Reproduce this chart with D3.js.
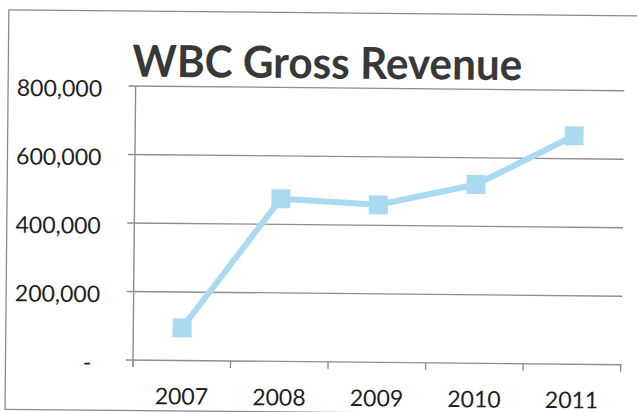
<!DOCTYPE html>
<html>
<head>
<meta charset="utf-8">
<script src="https://cdn.jsdelivr.net/npm/d3@7"></script>
<style>
  html, body { margin: 0; padding: 0; background: #ffffff; }
  svg { display: block; }
  text { font-family: Lato, "Open Sans", sans-serif; }
</style>
</head>
<body>
<svg id="chart" width="637" height="412"></svg>
<script>
// Yearly gross revenue
const categories = ["2007", "2008", "2009", "2010", "2011"];
const revenue = [95000, 475000, 460000, 522000, 667000];

// Value axis ticks and their printed labels (accounting style: zero shown as "-")
const yTickValues = [0, 200000, 400000, 600000, 800000];
const yTickLabels = ["-", "200,000", "400,000", "600,000", "800,000"];

const chartTitle = "WBC Gross Revenue";

const W = 637, H = 412;
const plot = { left: 133, right: 620.7, top: 86, bottom: 360 };
const gridColor = "#8e8e8e";
const seriesColor = "#a9daf1";

const svg = d3.select("#chart");
svg.append("rect").attr("width", W).attr("height", H).attr("fill", "#ffffff");

// whole chart sits slightly tilted on the page
const g = svg.append("g").attr("transform", "rotate(0.55,133,360)");

// chart frame
g.append("rect")
  .attr("x", 5.5).attr("y", 11)
  .attr("width", 700).attr("height", 399.5)
  .attr("fill", "none")
  .attr("stroke", "#8a8a8a")
  .attr("stroke-width", 1.3);

const x = d3.scaleBand().domain(categories).range([plot.left, plot.right]).padding(0);
const y = d3.scaleLinear().domain([0, 800000]).range([plot.bottom, plot.top]);
const bw = x.bandwidth();

// horizontal gridlines (with short tick stubs left of the axis)
g.append("g").selectAll("line")
  .data(yTickValues)
  .join("line")
  .attr("x1", plot.left - 7).attr("x2", plot.right + 1)
  .attr("y1", d => y(d)).attr("y2", d => y(d))
  .attr("stroke", gridColor)
  .attr("stroke-width", 1.4);

// vertical value axis
g.append("line")
  .attr("x1", plot.left).attr("x2", plot.left)
  .attr("y1", y(800000)).attr("y2", y(0) + 7)
  .attr("stroke", gridColor)
  .attr("stroke-width", 1.4);

// category tick marks at band boundaries
const boundaries = d3.range(categories.length + 1).map(i => x.range()[0] + i * x.step());
g.append("g").selectAll("line")
  .data(boundaries)
  .join("line")
  .attr("x1", d => d).attr("x2", d => d)
  .attr("y1", y(0)).attr("y2", y(0) + 7)
  .attr("stroke", gridColor)
  .attr("stroke-width", 1.4);

// value labels
g.append("g").selectAll("text")
  .data(yTickValues)
  .join("text")
  .attr("x", 99.5)
  .attr("dx", d => d === 0 ? -8 : 0)
  .attr("y", d => y(d) + 11)
  .attr("text-anchor", "end")
  .attr("font-size", 23)
  .attr("fill", "#1e1e1e")
  .text((d, i) => yTickLabels[i]);

// category labels
g.append("g").selectAll("text")
  .data(categories)
  .join("text")
  .attr("x", d => x(d) + bw / 2)
  .attr("y", 404)
  .attr("text-anchor", "middle")
  .attr("font-size", 23)
  .attr("fill", "#1e1e1e")
  .text(d => d);

// title
g.append("text")
  .attr("x", 129.5)
  .attr("y", 76.5)
  .attr("font-size", 44)
  .attr("font-weight", 700)
  .attr("fill", "#383838")
  .attr("textLength", 390)
  .attr("lengthAdjust", "spacingAndGlyphs")
  .text(chartTitle);

// revenue series
const points = categories.map((c, i) => ({ c, v: revenue[i] }));
const line = d3.line()
  .x(d => x(d.c) + bw / 2)
  .y(d => y(d.v));

g.append("path")
  .datum(points)
  .attr("d", line)
  .attr("fill", "none")
  .attr("stroke", seriesColor)
  .attr("stroke-width", 6)
  .attr("stroke-linejoin", "round");

const ms = 19;
g.append("g").selectAll("rect")
  .data(points)
  .join("rect")
  .attr("x", d => x(d.c) + bw / 2 - ms / 2)
  .attr("y", d => y(d.v) - ms / 2)
  .attr("width", ms).attr("height", ms)
  .attr("fill", seriesColor);
</script>
</body>
</html>
